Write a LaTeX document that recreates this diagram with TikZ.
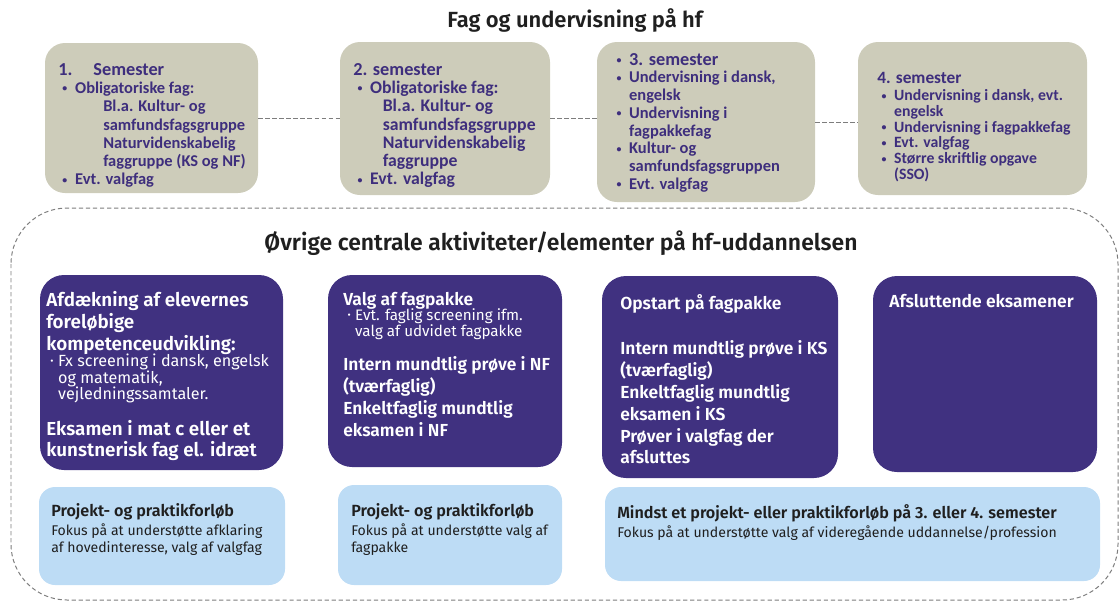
\documentclass[tikz,border=0pt]{standalone}
\usepackage{fontspec}
\setmainfont{Fira Sans}[BoldFont={Fira Sans SemiBold}]
\newfontfamily\calfont{Carlito}
\usetikzlibrary{fit}

\definecolor{semgrey}{RGB}{205,204,186}
\definecolor{hfpurple}{RGB}{64,49,128}
\definecolor{hfblue}{RGB}{189,220,245}
\definecolor{hfink}{RGB}{62,46,125}
\definecolor{framegrey}{RGB}{125,125,125}

% small bullet with a fixed hang, and a quick size switch
\newcommand{\bul}[1][12pt]{\makebox[#1][l]{\hspace{3pt}\raisebox{0.2ex}{\fontsize{7}{7}\selectfont\textbullet}}}
\newcommand{\fs}[2]{\fontsize{#1}{#2}\selectfont}

\tikzset{
  sembox/.style={fill=semgrey, rounded corners=5mm, inner sep=0pt},
  exambox/.style={fill=hfpurple, rounded corners=6mm, inner sep=0pt},
  projbox/.style={fill=hfblue, rounded corners=4mm, inner sep=0pt},
  semtxt/.style n args={2}{anchor=north west, inner sep=0pt, align=left,
    text=hfink, font=\calfont\bfseries\fs{#1}{#2}},
  examtxt/.style={anchor=north west, inner sep=0pt, align=left,
    text=white, font=\bfseries\fs{#1}{15.5}},
  examtxt/.default=12.4,
  projtxt/.style={anchor=north west, inner sep=0pt, align=left,
    text=black!88, font=\fs{10}{12.5}},
  heading/.style={font=\bfseries\fs{#1}{18}, text=black!88},
  heading/.default=15.6,
  dashline/.style={draw=framegrey, line width=0.7pt, dash pattern=on 3pt off 2pt},
}

\begin{document}
\begin{tikzpicture}[x=0.25mm, y=-0.25mm]
  %%%%% START %%%%%
  \useasboundingbox (0,0) rectangle (1120,602);

  \node[heading] (title) at (575,20) {Fag og undervisning på hf};

  % the four semesters
  \node[sembox, fit={(45,43) (258,193)}] (sem1) {};
  \node[sembox, fit={(340,42) (550,195)}] (sem2) {};
  \node[sembox, fit={(597,42) (815,202)}] (sem3) {};
  \node[sembox, fit={(858,42) (1087,195)}] (sem4) {};

  \draw[dashline] (sem1.east) -- (sem1.east -| sem2.west);
  \draw[dashline] (sem2.east) -- (sem2.east -| sem3.west);
  \draw[dashline] (sem3.east) -- (sem3.east -| sem4.west);

  \node[semtxt={11.7}{13}] (sem1txt) at (58,63) {%
    {\fs{13}{13}\makebox[25pt][l]{1.}Semester}\\
    \bul Obligatoriske fag:\\
    \hspace*{32pt}Bl.a. Kultur- og\\
    \hspace*{32pt}samfundsfagsgruppe\\
    \hspace*{32pt}Naturvidenskabelig\\
    \hspace*{32pt}faggruppe (KS og NF)\\
    \bul Evt. valgfag};

  \node[semtxt={12.6}{13}] (sem2txt) at (353,63) {%
    {\fs{13}{13}2. semester}\\
    \bul Obligatoriske fag:\\
    \hspace*{21pt}Bl.a. Kultur- og\\
    \hspace*{21pt}samfundsfagsgruppe\\
    \hspace*{21pt}Naturvidenskabelig\\
    \hspace*{21pt}faggruppe\\
    \bul Evt. valgfag};

  \node[semtxt={11.7}{12.6}] (sem3txt) at (612,53) {%
    \bul {\fs{13}{13}3. semester}\\
    \bul Undervisning i dansk,\\
    \hspace*{12pt}engelsk\\
    \bul Undervisning i\\
    \hspace*{12pt}fagpakkefag\\
    \bul Kultur- og\\
    \hspace*{12pt}samfundsfagsgruppen\\
    \bul Evt. valgfag};

  \node[semtxt={11.2}{11.2}] (sem4txt) at (877,72) {%
    {\fs{12.3}{12}4. semester}\\[1pt]
    \bul Undervisning i dansk, evt.\\
    \hspace*{12pt}engelsk\\
    \bul Undervisning i fagpakkefag\\
    \bul Evt. valgfag\\
    \bul Større skriftlig opgave\\
    \hspace*{12pt}(SSO)};

  % other activities, inside the dashed frame
  \draw[dashline, rounded corners=14mm] (11,208) rectangle (1118,600);
  \node[heading=16.3] (others) at (561,243) {Øvrige centrale aktiviteter/elementer på hf-uddannelsen};

  \node[exambox, fit={(40,275) (283,470)}] (exam1) {};
  \node[exambox, fit={(328,275) (562,467)}] (exam2) {};
  \node[exambox, fit={(602,276) (838,478)}] (exam3) {};
  \node[exambox, fit={(873,276) (1097,472)}] (exam4) {};

  \node[examtxt=13.4] (exam1txt) at (46,291) {%
    Afdækning af elevernes\\
    foreløbige\\
    kompetenceudvikling:\\[-4pt]
    {\mdseries\fs{11.5}{12}\bul[8.5pt]Fx screening i dansk, engelsk}\\[-3.5pt]
    {\mdseries\fs{11.5}{12}\hspace*{8.5pt}og matematik,}\\[-3.5pt]
    {\mdseries\fs{11.5}{12}\hspace*{8.5pt}vejledningssamtaler.}\\[9.5pt]
    Eksamen i mat c eller et\\
    kunstnerisk fag el. idræt};

  \node[examtxt] (exam2txt) at (343,292) {%
    Valg af fagpakke\\[-4.8pt]
    {\mdseries\fs{10.8}{12}\bul[8.5pt]Evt. faglig screening ifm.}\\[-4pt]
    {\mdseries\fs{10.8}{12}\hspace*{8.5pt}valg af udvidet fagpakke}\\[8.7pt]
    Intern mundtlig prøve i NF\\
    (tværfaglig)\\
    Enkeltfaglig mundtlig\\
    eksamen i NF};

  \node[examtxt] (exam3txt) at (620,294) {%
    Opstart på fagpakke\\[17pt]
    Intern mundtlig prøve i KS\\
    (tværfaglig)\\
    Enkeltfaglig mundtlig\\
    eksamen i KS\\
    Prøver i valgfag der\\
    afsluttes};

  \node[examtxt] (exam4txt) at (889,294) {Afsluttende eksamener};

  % project and internship courses
  \node[projbox, fit={(39,487) (285,585)}] (proj1) {};
  \node[projbox, fit={(338,485) (562,585)}] (proj2) {};
  \node[projbox, fit={(605,487) (1100,581)}] (proj3) {};

  \node[projtxt] (proj1txt) at (51,503) {%
    {\bfseries\fs{11.5}{12}Projekt- og praktikforløb}\\[1pt]
    Fokus på at understøtte afklaring\\
    af hovedinteresse, valg af valgfag};
  \node[projtxt] (proj2txt) at (351,503) {%
    {\bfseries\fs{11.5}{12}Projekt- og praktikforløb}\\[1pt]
    Fokus på at understøtte valg af\\
    fagpakke};
  \node[projtxt] (proj3txt) at (617,504) {%
    {\bfseries\fs{11.5}{12}Mindst et projekt- eller praktikforløb på 3. eller 4. semester}\\[1pt]
    Fokus på at understøtte valg af videregående uddannelse/profession};
  %%%%% END %%%%%
\end{tikzpicture}
\end{document}
